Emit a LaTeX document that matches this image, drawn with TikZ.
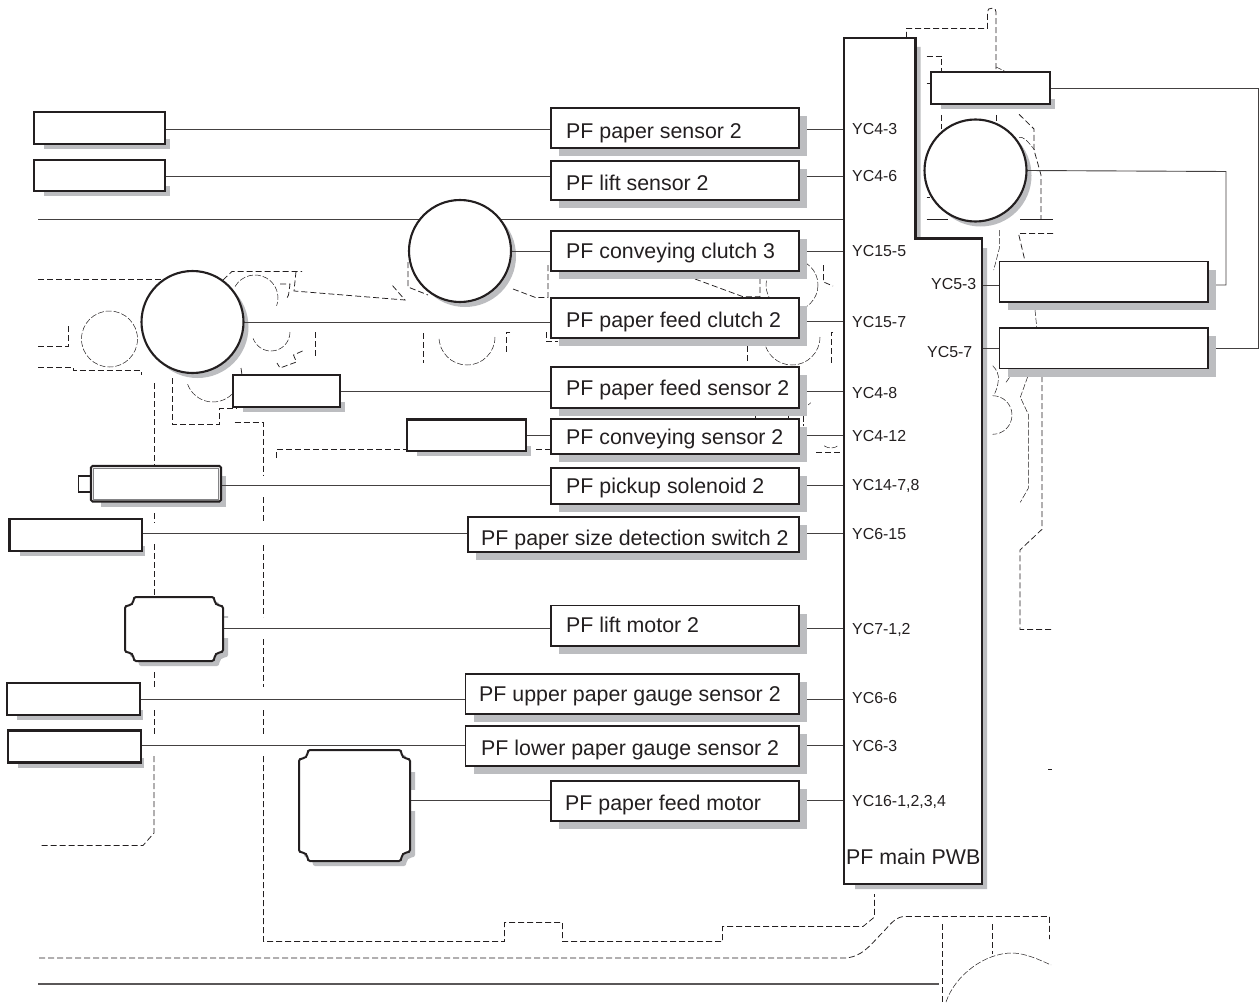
\documentclass[tikz,border=0pt]{standalone}
\usepackage{fontspec}
\setmainfont{Liberation Sans}
\definecolor{ink}{HTML}{231F20}
\definecolor{shade}{HTML}{BCBDC0}
\pgfdeclarelayer{dashlayer}
\pgfdeclarelayer{wirelayer}
\pgfdeclarelayer{shadelayer}
\pgfsetlayers{dashlayer,shadelayer,wirelayer,main}
\tikzset{
  dline/.style={draw=ink,line width=0.75pt,dash pattern=on 6pt off 3pt},
  tline/.style={draw=ink,line width=0.5pt,dash pattern=on 6pt off 2pt},
  wire/.style={draw=ink!85,line width=0.9pt},
  heavybox/.style={draw=ink,fill=white,line width=2.1pt,rectangle,inner sep=0pt,outer sep=0pt},
  labelbox/.style={draw=ink,fill=white,line width=1.3pt,rectangle,inner sep=0pt,outer sep=0pt},
  anchorbox/.style={rectangle,inner sep=0pt,outer sep=0pt},
  roundel/.style={draw=ink,fill=white,line width=2.1pt,circle,inner sep=0pt,outer sep=0pt,minimum size=102pt},
  labeltext/.style={font=\fontsize{21.35pt}{24pt}\selectfont,text=ink,anchor=base west,inner sep=0pt},
  porttext/.style={font=\fontsize{15.9pt}{18pt}\selectfont,text=ink,anchor=base west,inner sep=0pt},
  shadefill/.style={fill=shade,draw=none},
}
\newcommand{\nbox}[6]{%
  \pgfmathsetmacro\bxcx{(#3+#5)/2}\pgfmathsetmacro\bxcy{(#4+#6)/2}%
  \pgfmathsetmacro\bxw{#5-#3}\pgfmathsetmacro\bxh{#6-#4}%
  \node[#1,minimum width=\bxw pt,minimum height=\bxh pt] (#2) at (\bxcx,\bxcy) {};}
\newcommand{\hshade}[5][5]{\begin{pgfonlayer}{shadelayer}\fill[shadefill] ({#2+10},{#5-5}) rectangle ({#4+#1},{#5+5});\end{pgfonlayer}}
\newcommand{\lshade}[4]{\begin{pgfonlayer}{shadelayer}\fill[shadefill] ({#1+8},{#2+8}) rectangle ({#3+8},{#4+8});\end{pgfonlayer}}
\newcommand{\notchpath}[4]{%
  ({#1+11},{#2}) -- ({#3-11},{#2})
  .. controls ({#3-9},{#2}) and ({#3-9},{#2+1.5}) .. ({#3-8.5},{#2+3.5})
  .. controls ({#3-8},{#2+6.5}) and ({#3-6.5},{#2+8}) .. ({#3-3.5},{#2+8.5})
  .. controls ({#3-1.5},{#2+9}) and ({#3},{#2+9}) .. ({#3},{#2+11})
  -- ({#3},{#4-11})
  .. controls ({#3},{#4-9}) and ({#3-1.5},{#4-9}) .. ({#3-3.5},{#4-8.5})
  .. controls ({#3-6.5},{#4-8}) and ({#3-8},{#4-6.5}) .. ({#3-8.5},{#4-3.5})
  .. controls ({#3-9},{#4-1.5}) and ({#3-9},{#4}) .. ({#3-11},{#4})
  -- ({#1+11},{#4})
  .. controls ({#1+9},{#4}) and ({#1+9},{#4-1.5}) .. ({#1+8.5},{#4-3.5})
  .. controls ({#1+8},{#4-6.5}) and ({#1+6.5},{#4-8}) .. ({#1+3.5},{#4-8.5})
  .. controls ({#1+1.5},{#4-9}) and ({#1},{#4-9}) .. ({#1},{#4-11})
  -- ({#1},{#2+11})
  .. controls ({#1},{#2+9}) and ({#1+1.5},{#2+9}) .. ({#1+3.5},{#2+8.5})
  .. controls ({#1+6.5},{#2+8}) and ({#1+8},{#2+6.5}) .. ({#1+8.5},{#2+3.5})
  .. controls ({#1+9},{#2+1.5}) and ({#1+9},{#2}) .. ({#1+11},{#2}) -- cycle}
\newcommand{\darc}[6][tline]{\draw[#1] ({#2+#4*cos(#5)},{#3+#4*sin(#5)}) arc[start angle=#5,end angle=#6,radius=#4];}
\begin{document}
\begin{tikzpicture}[x=1pt,y=-1pt]
\useasboundingbox (0,0) rectangle (1260,1003);

% ---------- dashed background ----------
\begin{pgfonlayer}{dashlayer}
\fill[white] (0,0) rectangle (1260,1003);
\draw[dline] (38,279.5) -- (166,279.5);
\draw[dline] (223,280) -- (232,271.5) -- (302,271.5);
\draw[dline] (296,271.5) -- (294,291) -- (405,300) -- (392,285);
\darc{255}{298}{23}{-150}{20}
\draw[dline] (280,284) -- (290,284) -- (288.5,295) -- (286,300);
\draw[dline] (38,346.5) -- (68.5,346.5) -- (68.5,326);
\draw[tline] (109.5,339) circle[radius=28];
\draw[dline] (38,367) -- (73,367) -- (73,370.5) -- (141,370.5) -- (141,375);
\darc{271}{332}{19}{0}{160}
\draw[dline] (315.5,332) -- (315.5,357);
\draw[dline] (302.5,351) -- (293.5,355) -- (296.4,362) -- (280,368) -- (277,363);
\draw[dline] (241,368) -- (242,375);
\draw[dline] (154,383) -- (154,466);
\draw[dline] (154,513) -- (154,523);
\draw[dline] (154,544) -- (154,597);
\draw[dline] (154,672) -- (154,688);
\draw[dline] (154,710) -- (154,735);
\draw[dline] (154,756) -- (154,833) -- (143,845.5) -- (39,845.5);
\darc{213}{375}{27}{160}{46}
\draw[dline] (172.5,378) -- (172.5,424.5) -- (219.5,424.5) -- (219.5,408.5) -- (237,408.5);
\draw[dline] (234.5,422.5) -- (263.5,422.5) -- (263.5,475);
\draw[dline] (263.5,497) -- (263.5,523);
\draw[dline] (263.5,545) -- (263.5,617);
\draw[dline] (263.5,639) -- (263.5,687);
\draw[dline] (263.5,710) -- (263.5,735);
\draw[dline] (263.5,756) -- (263.5,941.5) -- (504.5,941.5) -- (504.5,922.5) -- (562.5,922.5) -- (562.5,941.5) -- (722.5,941.5) -- (722.5,926.5) -- (863,926.5) -- (874.5,917) -- (874.5,894);
\draw[dline] (39,958) -- (843,958) .. controls (862,958) and (870,945) .. (885,930) .. controls (892,922) and (897,916.5) .. (905,916.5) -- (1049.5,916.5) -- (1049.5,939);
\draw[dline] (942,924) -- (942,1003);
\draw[dline] (992,924) -- (992,954);
\draw[tline] (946,1002) .. controls (955,975) and (985,953) .. (1012,953) .. controls (1025,953) and (1040,960) .. (1051,965);
\draw[tline] (1048,769) -- (1052,769);
% around clutch 3
\draw[dline] (408,262) -- (408,287) -- (428,295);
\draw[dline] (513,289) -- (535.5,297.5) -- (548,297.5) -- (548,263);
\draw[dline] (423,333) -- (423,363);
\darc{467}{337}{28}{0}{180}
\draw[dline] (510,332) -- (506,332) -- (506,352);
\draw[dline] (546,332) -- (546,341) -- (558,341);
% conveying sensor line
\draw[dline] (276.5,458) -- (276.5,449.5) -- (407,449.5);
\draw[dline] (536,449.5) -- (551,449.5);
\draw[dline] (816,452) -- (844,452);
\darc[tline]{831}{436}{12}{125}{50}
\draw[tline] (755,416) -- (755,420);
\draw[tline] (788,416) -- (788,420);
\draw[tline] (803.3,416) -- (803.3,426);
\draw[tline] (808.3,405) -- (810.7,402.7);
% between clutches on the right
\draw[dline] (695,279) -- (743,296.7) -- (760,296.7) -- (760,279);
\draw[tline] (792,285) circle[radius=26];
\draw[dline] (823.5,265) -- (823.5,282) -- (833,286);
\darc{792}{337}{28}{0}{172}
\draw[dline] (747,346) -- (747,362);
\draw[dline] (833,332) -- (831,332) -- (831,366);
% top right
\draw[dline] (906.5,38) -- (906.5,28.5) -- (987.5,28.5) -- (987.5,12) .. controls (987.5,9) and (989,8.3) .. (991.8,8.3) .. controls (995,8.3) and (996,9) .. (996,12) -- (996,72);
\draw[dline] (996,115) -- (996,122);
\draw[tline] (996,67) -- (1004.4,71);
\draw[dline] (926.6,56) -- (941.7,56) -- (941.7,72);
\draw[dline] (941.7,115) -- (941.7,129);
\draw[tline] (926.6,83) -- (931,83);
\draw[dline] (1019,114.3) -- (1034,129) -- (1034,150) -- (1041,175) -- (1041,219.3);
\draw[tline] (1019,137.5) .. controls (1023,136.5) and (1026,139) .. (1034.6,150);
\draw[ink,line width=0.9pt] (926.6,219.3) -- (948,219.3);
\draw[ink,line width=0.9pt] (1020,219.3) -- (1053,219.3);
\draw[tline] (926.6,197) -- (930,197);
\draw[tline] (999.4,230) -- (999.4,248) -- (993.7,270);
\draw[dline] (1053,233.5) -- (1018.5,233.5) -- (1024.5,259);
\draw[tline] (1035,310) -- (1036.7,327);
\draw[tline] (1027.7,376.7) -- (1020.3,397.3) -- (1028.3,414.3) -- (1028.3,488.3) -- (1020.3,502.3);
\draw[dline] (1042,376) -- (1042,529.3) -- (1020,550) -- (1020,629.5) -- (1052,629.5);
\draw[tline] (992.7,365.7) .. controls (997,370) and (999,375) .. (998.3,380) .. controls (998,386) and (996,391) .. (994,395);
\darc{992.7}{415}{19.3}{-90}{90}
\draw[tline] (1006,382.3) -- (1010,376.7);
\end{pgfonlayer}

% ---------- shadows ----------
\begin{pgfonlayer}{shadelayer}
\fill[shadefill] (915,47) -- (920.5,47) -- (920.5,238) -- (982,238) -- (982,248) -- (987,248) -- (987,889) -- (855,889) -- (855,880) -- cycle;
\fill[shadefill] (197.5,327) circle[radius=51];
\fill[shadefill] (465,256) circle[radius=51];
\fill[shadefill] (980.5,175.5) circle[radius=51];
\fill[shadefill] (101,476) rectangle (226,506.5);
\begin{scope}[shift={(5,5)}]
\fill[shadefill] \notchpath{125}{597}{223}{661};
\fill[shadefill] \notchpath{299}{750}{410}{861};
\end{scope}
\fill[white] (223.7,600) rectangle (229.5,616);
\fill[white] (223.7,618) rectangle (229.5,638);
\fill[white] (410.7,752) rectangle (416.5,772);
\fill[white] (410.7,790) rectangle (416.5,811);
\end{pgfonlayer}
\lshade{551}{108}{799}{148}
\lshade{551}{161}{799}{200}
\lshade{551}{231}{799}{271}
\lshade{551}{298}{799}{338}
\lshade{551}{367}{799}{408}
\lshade{551}{419}{799}{454}
\lshade{551}{468}{799}{504}
\lshade{468}{517}{799}{552}
\lshade{551}{605.5}{799}{646}
\lshade{465.5}{674}{799}{714}
\lshade{465.5}{726}{799}{766}
\lshade{551}{781}{799}{821}
\lshade{999.5}{261.5}{1208}{302}
\lshade{999.5}{328}{1208}{368.5}
\hshade{34}{112}{165}{144}
\hshade{34}{160}{165}{191}
\hshade{233}{375}{340}{407}
\hshade{407}{419.5}{526}{451}
\hshade[2.7]{9.5}{519}{142}{551}
\hshade[2.7]{7}{683}{140}{715}
\hshade[2.7]{8}{730.5}{141}{762.5}
\hshade{931}{72}{1050}{104}

% ---------- PWB ----------
\draw[ink,fill=white,line width=2.1pt,line join=miter] (844,38) -- (915.5,38) -- (915.5,238.5) -- (982,238.5) -- (982,884) -- (844,884) -- cycle;
\nbox{anchorbox}{pwb}{844}{38}{982}{884}

% ---------- sensors and parts ----------
\nbox{heavybox}{sA}{34}{112}{165}{144}
\nbox{heavybox}{sB}{34}{160}{165}{191}
\nbox{heavybox}{sC}{233}{375}{340}{407}
\nbox{heavybox}{sD}{407}{419.5}{526}{451}
\nbox{heavybox}{sE}{9.5}{519}{142}{551}
\nbox{heavybox}{sF}{7}{683}{140}{715}
\nbox{heavybox}{sG}{8}{730.5}{141}{762.5}
\nbox{heavybox}{sT}{931}{72}{1050}{104}
\node[roundel] (cA) at (192.5,322) {};
\node[roundel] (cB) at (460,251) {};
\node[roundel] (cC) at (975.5,170.5) {};
% solenoid
\draw[ink,fill=white,line width=1.8pt] (78.5,476) rectangle (91,492);
\nbox{heavybox,rounded corners=1.5pt}{sol}{91}{466}{221}{501.5}
\draw[shade!70!black,line width=0.8pt] (93,468.5) rectangle (218.5,499.5);
% motors
\draw[ink,fill=white,line width=2pt] \notchpath{125}{597}{223}{661};
\draw[ink,fill=white,line width=2pt] \notchpath{299}{750}{410}{861};
\nbox{anchorbox}{mA}{125}{597}{223}{661}
\nbox{anchorbox}{mB}{299}{750}{410}{861}

% ---------- labelled boxes ----------
\nbox{labelbox}{l1}{551}{108}{799}{148}
\nbox{labelbox}{l2}{551}{161}{799}{200}
\nbox{labelbox}{l3}{551}{231}{799}{271}
\nbox{labelbox}{l4}{551}{298}{799}{338}
\nbox{labelbox}{l5}{551}{367}{799}{408}
\nbox{labelbox}{l6}{551}{419}{799}{454}
\nbox{labelbox}{l7}{551}{468}{799}{504}
\nbox{labelbox}{l8}{468}{517}{799}{552}
\nbox{labelbox}{l9}{551}{605.5}{799}{646}
\nbox{labelbox}{l10}{465.5}{674}{799}{714}
\nbox{labelbox}{l11}{465.5}{726}{799}{766}
\nbox{labelbox}{l12}{551}{781}{799}{821}
\nbox{labelbox}{r1}{999.5}{261.5}{1208}{302}
\nbox{labelbox}{r2}{999.5}{328}{1208}{368.5}

\node[labeltext] (t1) at (566,139) {PF paper sensor 2};
\node[labeltext] (t2) at (566,190) {PF lift sensor 2};
\node[labeltext] (t3) at (566,258) {PF conveying clutch 3};
\node[labeltext] (t4) at (566,327) {PF paper feed clutch 2};
\node[labeltext] (t5) at (566,395) {PF paper feed sensor 2};
\node[labeltext] (t6) at (566,444) {PF conveying sensor 2};
\node[labeltext] (t7) at (566,493) {PF pickup solenoid 2};
\node[labeltext] (t8) at (481,545) {PF paper size detection switch 2};
\node[labeltext] (t9) at (566,632) {PF lift motor 2};
\node[labeltext] (t10) at (479,701) {PF upper paper gauge sensor 2};
\node[labeltext] (t11) at (481,755) {PF lower paper gauge sensor 2};
\node[labeltext] (t12) at (565,810) {PF paper feed motor};
\node[labeltext] (t13) at (846,864) {PF main PWB};

\node[porttext] (p1) at (852,135) {YC4-3};
\node[porttext] (p2) at (852,182) {YC4-6};
\node[porttext] (p3) at (852,256) {YC15-5};
\node[porttext] (p4) at (852,327) {YC15-7};
\node[porttext] (p5) at (852,398) {YC4-8};
\node[porttext] (p6) at (852,441) {YC4-12};
\node[porttext] (p7) at (852,490) {YC14-7,8};
\node[porttext] (p8) at (852,539) {YC6-15};
\node[porttext] (p9) at (852,634) {YC7-1,2};
\node[porttext] (p10) at (852,703) {YC6-6};
\node[porttext] (p11) at (852,751) {YC6-3};
\node[porttext] (p12) at (852,806) {YC16-1,2,3,4};
\node[porttext] (p13) at (931,289.5) {YC5-3};
\node[porttext] (p14) at (927,357) {YC5-7};

% ---------- connectors ----------
\begin{pgfonlayer}{wirelayer}
\draw[wire] (38,219) -- (pwb.west |- 0,219);
\draw[wire,line width=1.3pt,draw=ink!75] (38,984) -- (939,984);
\draw[wire] (sA.east |- 0,129) -- (l1.west |- 0,129);
\draw[wire] (sB.east |- 0,176) -- (l2.west |- 0,176);
\draw[wire] (cB.east) -- (l3.west |- cB.east);
\draw[wire] (cA.east) -- (l4.west |- cA.east);
\draw[wire] (sC.east |- 0,391) -- (l5.west |- 0,391);
\draw[wire] (sD.east |- 0,435) -- (l6.west |- 0,435);
\draw[wire] (sol.east |- 0,485) -- (l7.west |- 0,485);
\draw[wire] (sE.east |- 0,533.5) -- (l8.west |- 0,533.5);
\draw[wire] (mA.east |- 0,628) -- (l9.west |- 0,628);
\draw[wire] (sF.east |- 0,699) -- (l10.west |- 0,699);
\draw[wire] (sG.east |- 0,745) -- (l11.west |- 0,745);
\draw[wire] (mB.east |- 0,800) -- (l12.west |- 0,800);
\draw[wire] ([xshift=8pt]l1.east |- 0,129) -- (pwb.west |- 0,129);
\draw[wire] ([xshift=8pt]l2.east |- 0,176) -- (pwb.west |- 0,176);
\draw[wire] ([xshift=8pt]l3.east |- 0,251) -- (pwb.west |- 0,251);
\draw[wire] ([xshift=8pt]l4.east |- 0,321) -- (pwb.west |- 0,321);
\draw[wire] ([xshift=8pt]l5.east |- 0,391) -- (pwb.west |- 0,391);
\draw[wire] ([xshift=8pt]l6.east |- 0,435) -- (pwb.west |- 0,435);
\draw[wire] ([xshift=8pt]l7.east |- 0,485) -- (pwb.west |- 0,485);
\draw[wire] ([xshift=8pt]l8.east |- 0,533.5) -- (pwb.west |- 0,533.5);
\draw[wire] ([xshift=8pt]l9.east |- 0,628) -- (pwb.west |- 0,628);
\draw[wire] ([xshift=8pt]l10.east |- 0,699) -- (pwb.west |- 0,699);
\draw[wire] ([xshift=8pt]l11.east |- 0,745) -- (pwb.west |- 0,745);
\draw[wire] ([xshift=8pt]l12.east |- 0,800) -- (pwb.west |- 0,800);
\draw[wire] (pwb.east |- 0,285) -- (r1.west |- 0,285);
\draw[wire] (pwb.east |- 0,348) -- (r2.west |- 0,348);
\draw[wire] (cC.east) -- (1226,171.5) -- (1226,285) -- ([xshift=8pt]r1.east |- 0,285);
\draw[wire] (sT.east |- 0,88) -- (1258,88) -- (1258,348) -- ([xshift=8pt]r2.east |- 0,348);
\end{pgfonlayer}
\end{tikzpicture}
\end{document}
